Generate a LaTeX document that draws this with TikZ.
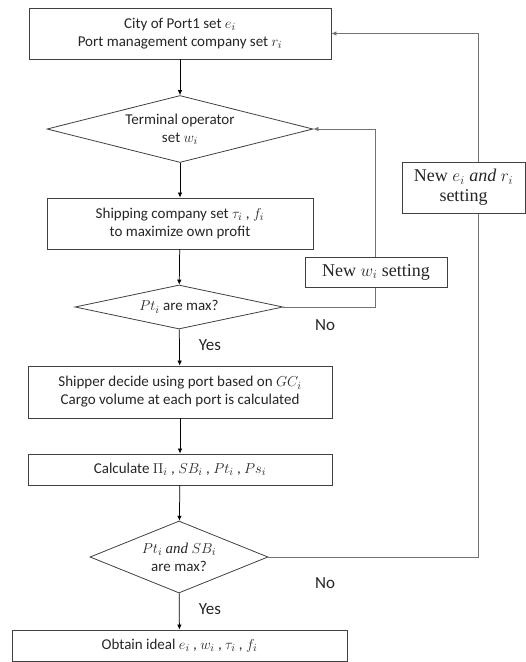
\documentclass[tikz,border=0pt]{standalone}
\usepackage{fontspec}
\setmainfont{Carlito}
\newfontfamily\serifnew{Liberation Serif}
\usetikzlibrary{shapes.geometric,arrows.meta}
\newcommand{\mathand}{{\serifnew\itshape and}}
\begin{document}
\begin{tikzpicture}[x=1pt,y=-1pt,
  every node/.style={font=\fontsize{15}{18}\selectfont, text=black!85},
  procbox/.style={draw=black!75, line width=0.8pt, rectangle, fill=white, inner sep=0pt, align=center},
  decision/.style={draw=black!75, line width=0.8pt, diamond, inner sep=0pt, align=center},
  flow/.style={draw=black, line width=0.75pt, -{Latex[length=5pt,width=4.5pt]}},
  loop/.style={draw=black!55, line width=0.8pt, -{Latex[length=5pt,width=4.5pt]}},
  lbl/.style={font=\fontsize{17}{20}\selectfont},
  newbox/.style={procbox, font=\serifnew\fontsize{18}{20}\selectfont}]
\useasboundingbox (0,0) rectangle (526,662);

% main column
\node[procbox, minimum width=302pt, minimum height=51pt] (city) at (180,33.5)
  {City of Port1 set $e_i$\\Port management company set $r_i$};
\node[decision, aspect=4.6, minimum width=266pt, minimum height=67pt] (term) at (180,129)
  {Terminal operator\\set $w_i$};
\node[procbox, minimum width=266pt, minimum height=51pt] (ship) at (180,223.5)
  {Shipping company set $\tau_i$ , $f_i$\\to maximize own profit};
\node[decision, aspect=5.5, minimum width=208pt, minimum height=44pt] (ptmax) at (179,307)
  {$Pt_i$ are max?};
\node[procbox, minimum width=304pt, minimum height=52pt] (shipper) at (180,392)
  {Shipper decide using port based on $GC_i$\\Cargo volume at each port is calculated};
\node[procbox, minimum width=304pt, minimum height=31pt] (calc) at (180,469.5)
  {Calculate $\Pi_i$ , $SB_i$ , $Pt_i$ , $Ps_i$};
\node[decision, aspect=2.9, minimum width=178pt, minimum height=72pt] (both) at (179,557)
  {$Pt_i$ \mathand{} $SB_i$\\are max?};
\node[procbox, minimum width=335pt, minimum height=31pt] (ideal) at (179.5,645.5)
  {Obtain ideal $e_i$ , $w_i$ , $\tau_i$ , $f_i$};

% feedback corners
\coordinate (wcorner) at (375,307);
\coordinate (wtop) at (375,129);
\coordinate (ecorner) at (478,557);
\coordinate (etop) at (478,33.5);

% main flow
\draw[flow] (city) -- (term);
\draw[flow] (term) -- (ship);
\draw[flow] (ship) -- (ptmax);
\draw[flow] (ptmax) -- (shipper);
\draw[flow] (shipper) -- (calc);
\draw[flow] (calc) -- (both);
\draw[flow] (both) -- (ideal);

% feedback loops
\draw[loop] (ptmax.east) -- (wcorner) -- (wtop) -- (term.east);
\draw[loop] (both.east) -- (ecorner) -- (etop) -- (city.east);

% setting boxes sit on top of the loop lines
\node[newbox, minimum width=142pt, minimum height=30pt] (neww) at (376,272)
  {New $w_i$ setting};
\node[newbox, minimum width=123pt, minimum height=51pt] (newe) at (463.5,187.5)
  {New $e_i$ \textit{and} $r_i$\\setting};

% branch labels
\node[lbl] (no1) at (325,325) {No};
\node[lbl] (yes1) at (210,345) {Yes};
\node[lbl] (no2) at (325,583) {No};
\node[lbl] (yes2) at (210,609) {Yes};
\end{tikzpicture}
\end{document}
